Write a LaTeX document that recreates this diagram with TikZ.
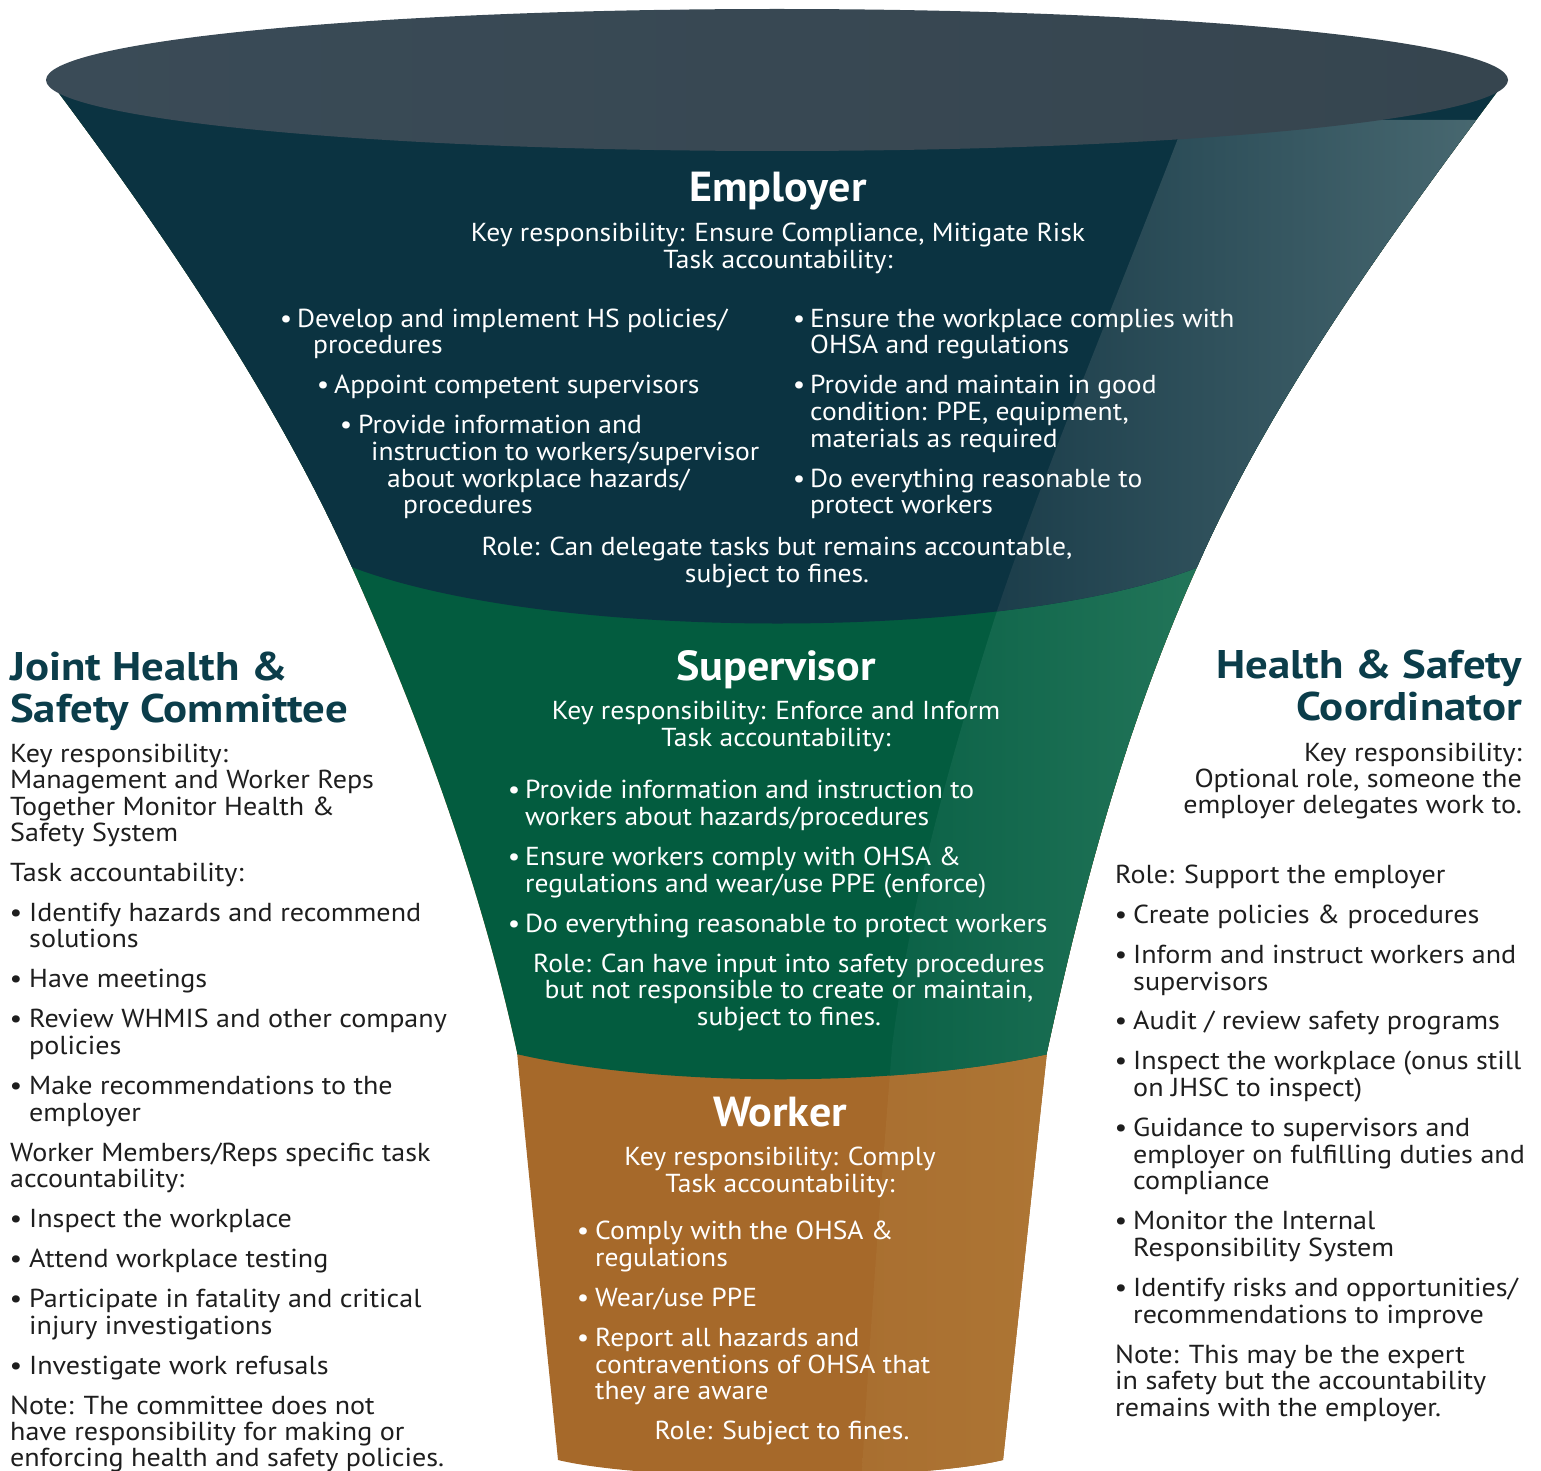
\documentclass[tikz,border=0pt]{standalone}
\usepackage{fontspec}
\setmainfont{PT Sans}
\newfontfamily\cenf[FakeStretch=1.06]{PT Sans}
\newfontfamily\sidef[FakeStretch=1.08]{PT Sans}
\newfontfamily\hdf[FakeStretch=1.05]{PT Sans}
\newfontfamily\shdf[FakeStretch=1.12]{PT Sans}
\definecolor{ellc}{HTML}{3A4B57}
\definecolor{ellc2}{HTML}{36454F}
\definecolor{empc}{HTML}{0B3341}
\definecolor{supc}{HTML}{035C3F}
\definecolor{wrkc}{HTML}{A6692A}
\definecolor{empA}{HTML}{1B3D4A}
\definecolor{empB}{HTML}{4A6A72}
\definecolor{supA}{HTML}{0A6146}
\definecolor{supB}{HTML}{2A7B5F}
\definecolor{wrkA}{HTML}{A96F30}
\definecolor{wrkB}{HTML}{B8853F}
\definecolor{headc}{HTML}{0B3D4A}
\definecolor{sidec}{HTML}{1E1E1E}
\newcommand\bodyf{\cenf\fontsize{26}{30}\selectfont}
\newcommand\sbodyf{\sidef\fontsize{26}{30}\selectfont}
\newcommand\headf{\hdf\fontsize{42}{46}\selectfont\bfseries}
\newcommand\sheadf{\shdf\fontsize{40}{44}\selectfont\bfseries}
\newcommand\mytx[4]{\node[#1] (#2) at (#3) {#4};}
\tikzset{
  ct/.style={anchor=base, inner sep=0, text=white, font=\bodyf},
  cl/.style={anchor=base west, inner sep=0, text=white, font=\bodyf},
  hd/.style={anchor=base, inner sep=0, text=white, font=\headf},
  sl/.style={anchor=base west, inner sep=0, text=sidec, font=\sbodyf},
  sr/.style={anchor=base east, inner sep=0, text=sidec, font=\sbodyf},
  shl/.style={anchor=base west, inner sep=0, text=headc, font=\sheadf},
  shr/.style={anchor=base east, inner sep=0, text=headc, font=\sheadf},
  wb/.style={anchor=base, inner sep=0, text=white, font=\bodyf},
  sb/.style={anchor=base, inner sep=0, text=sidec, font=\sbodyf},
}
\def\funnel{(58,92) .. controls (170,242) and (278,403) .. (350,563) .. controls (422,723) and (482,890) .. (517,1052) .. controls (530,1190) and (545,1330) .. (558,1460) .. controls (650,1482) and (910,1482) .. (1003,1460) .. controls (1017,1330) and (1032,1190) .. (1047,1052) .. controls (1082,890) and (1125,727) .. (1197,567) .. controls (1269,403) and (1385,242) .. (1497,92) -- (1508,80) -- (46,80) -- cycle}
\def\empreg{(0,0) -- (0,555) -- (330,558) .. controls (520,645) and (1030,645) .. (1215,560) -- (1541,555) -- (1541,0) -- cycle}
\def\supreg{(0,0) -- (0,1050) -- (500,1050) .. controls (650,1089) and (910,1089) .. (1065,1050) -- (1541,1050) -- (1541,0) -- cycle}
\def\hlreg{(1185,120) .. controls (1120,290) and (1040,480) .. (995,617) .. controls (950,760) and (910,900) .. (892,1047) .. controls (880,1200) and (870,1330) .. (862,1471) -- (1541,1471) -- (1541,120) -- cycle}
\begin{document}
\begin{tikzpicture}[x=1pt,y=-1pt]
\useasboundingbox (0,0) rectangle (1541,1471);
% funnel body
\begin{scope}
  \clip \funnel;
  \fill[wrkc] (0,0) rectangle (1541,1471);
  \begin{scope}\clip \hlreg; \shade[left color=wrkA, right color=wrkB] (862,0) rectangle (1510,1471);\end{scope}
  \begin{scope}
    \clip \supreg;
    \fill[supc] (0,0) rectangle (1541,1471);
    \begin{scope}\clip \hlreg; \shade[left color=supA, right color=supB] (880,0) rectangle (1300,1471);\end{scope}
  \end{scope}
  \begin{scope}
    \clip \empreg;
    \fill[empc] (0,0) rectangle (1541,1471);
    \begin{scope}\clip \hlreg; \shade[left color=empA, right color=empB] (990,0) rectangle (1505,1471);\end{scope}
  \end{scope}
\end{scope}
% top rim
\shade[left color=ellc, right color=ellc2] (777,80) ellipse [x radius=731, y radius=71];

% Employer
\mytx{hd}{eT}{778,202}{Employer}
\mytx{ct}{e1}{778,242}{Key responsibility: Ensure Compliance, Mitigate Risk}
\mytx{ct}{e2}{778,269}{Task accountability:}
\mytx{wb}{eb1}{286,327}{\textbullet}
\mytx{cl}{e3}{297,327}{Develop and implement HS policies/}
\mytx{cl}{e4}{313,353}{procedures}
\mytx{wb}{eb2}{323,393}{\textbullet}
\mytx{cl}{e5}{334,393}{Appoint competent supervisors}
\mytx{wb}{eb3}{346,433}{\textbullet}
\mytx{cl}{e6}{358,433}{Provide information and}
\mytx{cl}{e7}{371,460}{instruction to workers/supervisor}
\mytx{cl}{e8}{387,487}{about workplace hazards/}
\mytx{cl}{e9}{403,513}{procedures}
\mytx{wb}{eb4}{799,327}{\textbullet}
\mytx{cl}{e10}{810,327}{Ensure the workplace complies with}
\mytx{cl}{e11}{810,353}{OHSA and regulations}
\mytx{wb}{eb5}{799,393}{\textbullet}
\mytx{cl}{e12}{810,393}{Provide and maintain in good}
\mytx{cl}{e13}{810,420}{condition: PPE, equipment,}
\mytx{cl}{e14}{810,447}{materials as required}
\mytx{wb}{eb6}{799,487}{\textbullet}
\mytx{cl}{e15}{810,487}{Do everything reasonable to}
\mytx{cl}{e16}{810,513}{protect workers}
\mytx{ct}{e17}{777,555}{Role: Can delegate tasks but remains accountable,}
\mytx{ct}{e18}{777,582}{subject to fines.}

% Supervisor
\mytx{hd}{sT}{776,680}{Supervisor}
\mytx{ct}{s1}{776,719}{Key responsibility: Enforce and Inform}
\mytx{ct}{s2}{776,746}{Task accountability:}
\mytx{wb}{sbl1}{514,798}{\textbullet}
\mytx{cl}{s3}{525,798}{Provide information and instruction to}
\mytx{cl}{s4}{525,825}{workers about hazards/procedures}
\mytx{wb}{sbl2}{514,865}{\textbullet}
\mytx{cl}{s5}{525,865}{Ensure workers comply with OHSA \&}
\mytx{cl}{s6}{525,892}{regulations and wear/use PPE (enforce)}
\mytx{wb}{sbl3}{514,932}{\textbullet}
\mytx{cl}{s7}{525,932}{Do everything reasonable to protect workers}
\mytx{ct}{s8}{789,972}{Role: Can have input into safety procedures}
\mytx{ct}{s9}{789,998}{but not responsible to create or maintain,}
\mytx{ct}{s10}{789,1025}{subject to fines.}

% Worker
\mytx{hd}{wT}{780,1126}{Worker}
\mytx{ct}{w1}{780,1165}{Key responsibility: Comply}
\mytx{ct}{w2}{780,1192}{Task accountability:}
\mytx{wb}{wbl1}{583,1239}{\textbullet}
\mytx{cl}{w3}{595,1239}{Comply with the OHSA \&}
\mytx{cl}{w4}{595,1266}{regulations}
\mytx{wb}{wbl2}{583,1306}{\textbullet}
\mytx{cl}{w5}{595,1306}{Wear/use PPE}
\mytx{wb}{wbl3}{583,1346}{\textbullet}
\mytx{cl}{w6}{595,1346}{Report all hazards and}
\mytx{cl}{w7}{595,1373}{contraventions of OHSA that}
\mytx{cl}{w8}{595,1399}{they are aware}
\mytx{ct}{w9}{782,1439}{Role: Subject to fines.}

% Joint Health & Safety Committee
\mytx{shl}{jT1}{10,680}{Joint Health \&}
\mytx{shl}{jT2}{10,722}{Safety Committee}
\mytx{sl}{j1}{10,762}{Key responsibility:}
\mytx{sl}{j2}{10,788}{Management and Worker Reps}
\mytx{sl}{j3}{10,815}{Together Monitor Health \&}
\mytx{sl}{j4}{10,841}{Safety System}
\mytx{sl}{j5}{10,881}{Task accountability:}
\mytx{sb}{jb1}{16,921}{\textbullet}
\mytx{sl}{j6}{29,921}{Identify hazards and recommend}
\mytx{sl}{j7}{29,947}{solutions}
\mytx{sb}{jb2}{16,987}{\textbullet}
\mytx{sl}{j8}{29,987}{Have meetings}
\mytx{sb}{jb3}{16,1027}{\textbullet}
\mytx{sl}{j9}{29,1027}{Review WHMIS and other company}
\mytx{sl}{j10}{29,1054}{policies}
\mytx{sb}{jb4}{16,1094}{\textbullet}
\mytx{sl}{j11}{29,1094}{Make recommendations to the}
\mytx{sl}{j12}{29,1121}{employer}
\mytx{sl}{j13}{10,1161}{Worker Members/Reps specific task}
\mytx{sl}{j14}{10,1187}{accountability:}
\mytx{sb}{jb5}{16,1227}{\textbullet}
\mytx{sl}{j15}{29,1227}{Inspect the workplace}
\mytx{sb}{jb6}{16,1267}{\textbullet}
\mytx{sl}{j16}{29,1267}{Attend workplace testing}
\mytx{sb}{jb7}{16,1307}{\textbullet}
\mytx{sl}{j17}{29,1307}{Participate in fatality and critical}
\mytx{sl}{j18}{29,1334}{injury investigations}
\mytx{sb}{jb8}{16,1374}{\textbullet}
\mytx{sl}{j19}{29,1374}{Investigate work refusals}
\mytx{sl}{j20}{10,1414}{Note: The committee does not}
\mytx{sl}{j21}{10,1440}{have responsibility for making or}
\mytx{sl}{j22}{10,1466}{enforcing health and safety policies.}

% Health & Safety Coordinator
\mytx{shr}{hT1}{1522,678}{Health \& Safety}
\mytx{shr}{hT2}{1522,720}{Coordinator}
\mytx{sr}{h1}{1522,761}{Key responsibility:}
\mytx{sr}{h2}{1522,787}{Optional role, someone the}
\mytx{sr}{h3}{1522,813}{employer delegates work to.}
\mytx{sl}{h4}{1115,883}{Role: Support the employer}
\mytx{sb}{hb1}{1121,923}{\textbullet}
\mytx{sl}{h5}{1133,923}{Create policies \& procedures}
\mytx{sb}{hb2}{1121,963}{\textbullet}
\mytx{sl}{h6}{1133,963}{Inform and instruct workers and}
\mytx{sl}{h7}{1133,990}{supervisors}
\mytx{sb}{hb3}{1121,1029}{\textbullet}
\mytx{sl}{h8}{1133,1029}{Audit / review safety programs}
\mytx{sb}{hb4}{1121,1069}{\textbullet}
\mytx{sl}{h9}{1133,1069}{Inspect the workplace (onus still}
\mytx{sl}{h10}{1133,1096}{on JHSC to inspect)}
\mytx{sb}{hb5}{1121,1136}{\textbullet}
\mytx{sl}{h11}{1133,1136}{Guidance to supervisors and}
\mytx{sl}{h12}{1133,1163}{employer on fulfilling duties and}
\mytx{sl}{h13}{1133,1189}{compliance}
\mytx{sb}{hb6}{1121,1229}{\textbullet}
\mytx{sl}{h14}{1133,1229}{Monitor the Internal}
\mytx{sl}{h15}{1133,1256}{Responsibility System}
\mytx{sb}{hb7}{1121,1296}{\textbullet}
\mytx{sl}{h16}{1133,1296}{Identify risks and opportunities/}
\mytx{sl}{h17}{1133,1323}{recommendations to improve}
\mytx{sl}{h18}{1115,1363}{Note: This may be the expert}
\mytx{sl}{h19}{1115,1389}{in safety but the accountability}
\mytx{sl}{h20}{1115,1416}{remains with the employer.}
\end{tikzpicture}
\end{document}
